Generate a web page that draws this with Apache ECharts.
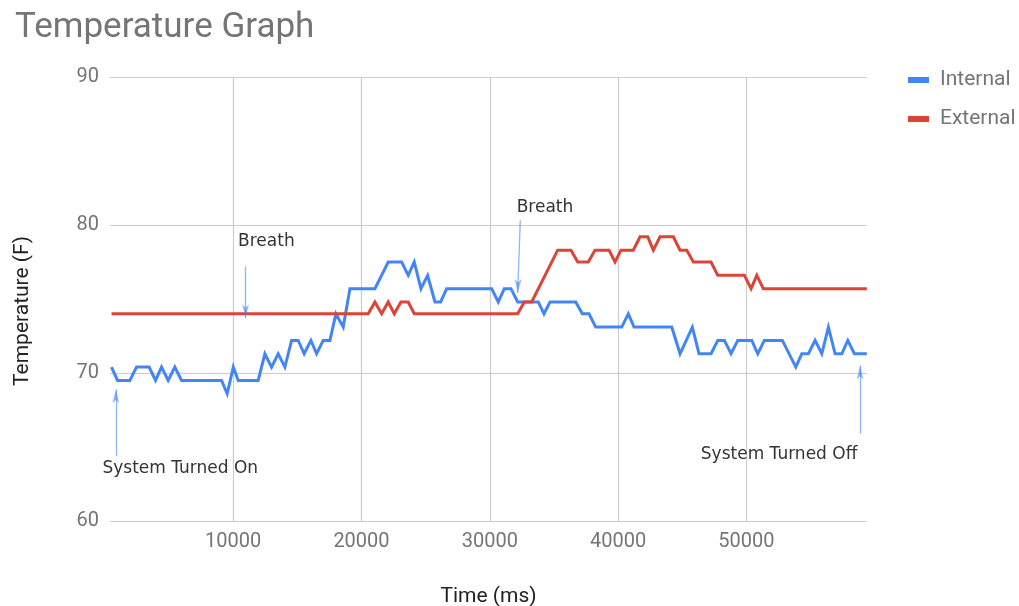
<!DOCTYPE html>
<html>
<head>
<meta charset="utf-8">
<title>Temperature Graph</title>
<script src="https://cdn.jsdelivr.net/npm/echarts@6/dist/echarts.min.js"></script>
<style>
  html, body { margin: 0; padding: 0; background: #ffffff; }
  #chart { width: 1019px; height: 606px; }
</style>
</head>
<body>
<div id="chart"></div>
<script>
// Sensor log: time since start (ms) and temperature (°F)
const internalTime = [518, 986, 1945, 2468, 3450, 3949, 4417, 4932, 5454, 5976, 9095, 9532, 10010, 10390,
  11949, 12471, 12994, 13508, 14031, 14553, 15068, 15535, 16058, 16503, 17017, 17540, 18007, 18577, 19099,
  21048, 22085, 23130, 23645, 24112, 24635, 25157, 25726, 26171, 26638, 30147, 30662, 31130, 31652, 32175,
  33781, 34225, 34693, 36697, 37211, 37734, 38256, 40284, 40798, 41242, 44182, 44829, 45788, 46310, 47246,
  47769, 48283, 48805, 49328, 50419, 50887, 51402, 52805, 53850, 54318, 54833, 55355, 55877, 56392, 56914,
  57437, 57904, 58418, 59387];
const internalTemp = [70.4, 69.5, 69.5, 70.4, 70.4, 69.5, 70.4, 69.5, 70.4, 69.5, 69.5, 68.6, 70.4, 69.5,
  69.5, 71.3, 70.4, 71.3, 70.4, 72.2, 72.2, 71.3, 72.2, 71.3, 72.2, 72.2, 74.0, 73.1, 75.7,
  75.7, 77.5, 77.5, 76.6, 77.5, 75.7, 76.6, 74.8, 74.8, 75.7, 75.7, 74.8, 75.7, 75.7, 74.8,
  74.8, 74.0, 74.8, 74.8, 74.0, 74.0, 73.1, 73.1, 74.0, 73.1, 73.1, 71.3, 73.1, 71.3, 71.3,
  72.2, 72.2, 71.3, 72.2, 72.2, 71.3, 72.2, 72.2, 70.4, 71.3, 71.3, 72.2, 71.3, 73.1, 71.3,
  71.3, 72.2, 71.3, 71.3];

const externalTime = [518, 20526, 21048, 21571, 22085, 22553, 23075, 23645, 24112, 32175, 32689, 33266,
  35293, 36330, 36853, 37679, 38201, 39293, 39761, 40229, 41188, 41710, 42311, 42747, 43269, 44307,
  44829, 45352, 45866, 47246, 47769, 49843, 50365, 50810, 51324, 59387];
const externalTemp = [74.0, 74.0, 74.8, 74.0, 74.8, 74.0, 74.8, 74.8, 74.0, 74.0, 74.8, 74.8,
  78.3, 78.3, 77.5, 77.5, 78.3, 78.3, 77.5, 78.3, 78.3, 79.2, 79.2, 78.3, 79.2, 79.2,
  78.3, 78.3, 77.5, 77.5, 76.6, 76.6, 75.7, 76.6, 75.7, 75.7];

const seriesNames = ['Internal', 'External'];

// Notes written on the chart: label anchor, arrow tail and arrow head (ms, °F)
const noteText = ['Breath', 'Breath', 'System Turned On', 'System Turned Off'];
const noteAt = [[12587, 78.85], [34303, 81.2], [5881, 63.55], [52549, 64.5]];
const arrowTail = [[10965, 77.2], [32377, 80.3], [852, 64.4], [58864, 65.9]];
const arrowHead = [[10965, 73.7], [32174, 75.4], [852, 68.9], [58864, 70.5]];

const yTicks = { min: 60, max: 90, step: 10 };
const timeRange = { min: 400, max: 59400 };

const pairs = (xs, ys) => xs.map((x, i) => [x, ys[i]]);

const BLUE = '#4285f4';
const RED = '#db4437';
const GREY = '#757575';

const chart = echarts.init(document.getElementById('chart'), null, { renderer: 'canvas' });

chart.setOption({
  animation: false,
  backgroundColor: '#ffffff',
  textStyle: { fontFamily: 'Roboto' },
  title: {
    text: 'Temperature Graph',
    left: 10,
    top: 6,
    textStyle: { fontFamily: 'Roboto', fontSize: 35, fontWeight: 'normal', color: GREY }
  },
  legend: {
    orient: 'vertical',
    left: 903,
    top: 64,
    itemWidth: 21,
    itemHeight: 6,
    itemGap: 17,
    icon: 'rect',
    data: seriesNames,
    textStyle: { fontFamily: 'Roboto', fontSize: 21, lineHeight: 22, color: GREY, padding: [0, 0, 0, 6] }
  },
  grid: { left: 110, right: 152, top: 77, bottom: 85, containLabel: false, outerBoundsMode: 'none' },
  xAxis: {
    type: 'value',
    min: timeRange.min,
    max: timeRange.max,
    name: 'Time (ms)',
    nameLocation: 'middle',
    nameGap: 65,
    nameTextStyle: { fontFamily: 'Roboto', fontSize: 21, color: '#222222' },
    axisLine: { show: false },
    axisTick: { show: false },
    axisLabel: {
      showMinLabel: false, showMaxLabel: false,
      margin: 11, fontFamily: 'Roboto', fontSize: 20, color: GREY,
      formatter: (v) => String(v)
    },
    splitLine: { show: true, showMinLine: false, showMaxLine: false, lineStyle: { color: '#cccccc', width: 1.2 } }
  },
  yAxis: {
    type: 'value',
    min: yTicks.min,
    max: yTicks.max,
    interval: yTicks.step,
    name: 'Temperature (F)',
    nameLocation: 'middle',
    nameGap: 77,
    nameTextStyle: { fontFamily: 'Roboto', fontSize: 21, color: '#222222', padding: [0, 24, 0, 0] },
    axisLine: { show: false },
    axisTick: { show: false },
    axisLabel: { margin: 11, fontFamily: 'Roboto', fontSize: 20, color: GREY },
    splitLine: { show: true, lineStyle: { color: '#cccccc', width: 1.2 } }
  },
  series: [
    {
      name: seriesNames[0],
      type: 'line',
      data: pairs(internalTime, internalTemp),
      showSymbol: false,
      symbol: 'none',
      color: BLUE,
      lineStyle: { color: BLUE, width: 3, join: 'miter' },
      markLine: {
        silent: true,
        animation: false,
        label: { show: false },
        lineStyle: { color: 'rgba(66,133,244,0.6)', width: 1.3, type: 'solid' },
        data: arrowTail.map((t, i) => [
          { coord: t, symbol: 'none' },
          { coord: arrowHead[i], symbol: 'arrow', symbolSize: [5, 14] }
        ])
      },
      markPoint: {
        silent: true,
        animation: false,
        symbol: 'circle',
        symbolSize: 0,
        itemStyle: { color: 'rgba(0,0,0,0)' },
        label: {
          show: true,
          position: 'inside',
          fontFamily: 'DejaVu Sans',
          fontSize: 17,
          color: '#333333'
        },
        data: noteAt.map((c, i) => ({ coord: c, value: noteText[i], label: { formatter: noteText[i] } }))
      }
    },
    {
      name: seriesNames[1],
      type: 'line',
      data: pairs(externalTime, externalTemp),
      showSymbol: false,
      symbol: 'none',
      color: RED,
      lineStyle: { color: RED, width: 3, join: 'miter' }
    }
  ]
});
</script>
</body>
</html>
